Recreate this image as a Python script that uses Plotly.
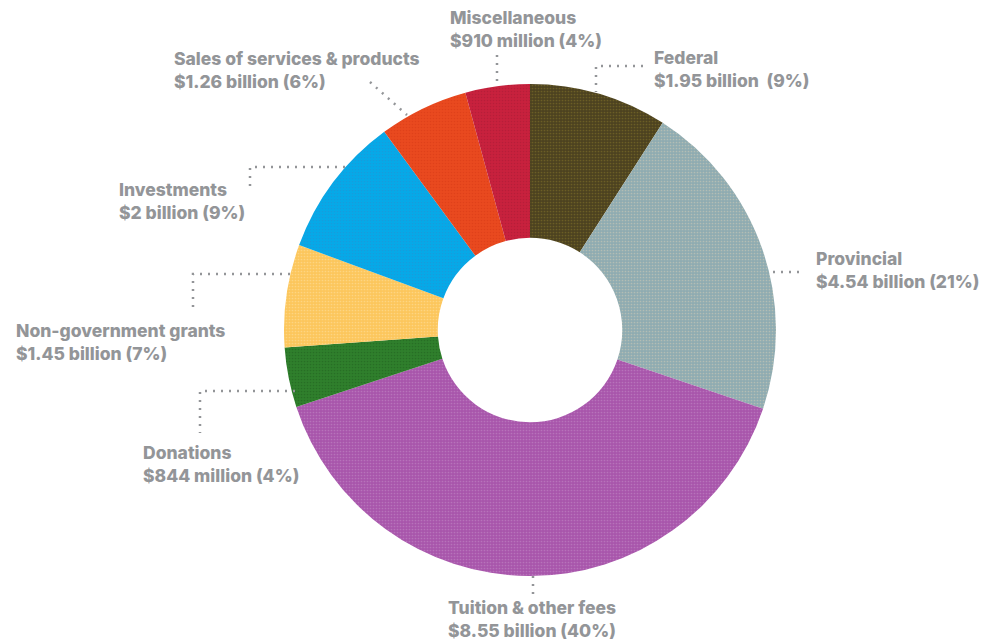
import plotly.graph_objects as go

# ---- data ----
categories = ["Federal", "Provincial", "Tuition & other fees", "Donations",
              "Non-government grants", "Investments",
              "Sales of services & products", "Miscellaneous"]
values_billion = [1.95, 4.54, 8.55, 0.844, 1.45, 2.0, 1.26, 0.91]
amount_labels = ["$1.95 billion ", "$4.54 billion", "$8.55 billion", "$844 million",
                 "$1.45 billion", "$2 billion", "$1.26 billion", "$910 million"]

colors = ["#4d4220", "#8fabb1", "#a856ab", "#2f7f2c",
          "#fcc65c", "#05a9e8", "#e9491f", "#c8213d"]
speckle = ["#8a7a2a", "#d8cfb8", "#c58fca", "#1f5e1d",
           "#fde2a8", "#2a8fd0", "#d53a16", "#a51a35"]

W, H = 984, 641
cx, cy, R = 530, 330, 246

def px(x):
    return x / W

def py(y):
    return 1 - y / H

fig = go.Figure(go.Pie(
    labels=categories,
    values=values_billion,
    sort=False,
    direction="clockwise",
    rotation=0,
    hole=0.375,
    textinfo="none",
    hoverinfo="label+value",
    marker=dict(colors=colors, line=dict(width=0),
                pattern=dict(shape=".", fgcolor=speckle, size=3, solidity=0.25,
                             fillmode="overlay")),
    domain=dict(x=[px(cx - R), px(cx + R)], y=[py(cy + R), py(cy - R)]),
    showlegend=False,
))

total = sum(values_billion)
pcts = [round(v / total * 100) for v in values_billion]

# label anchor (left x, vertical centre y) in pixels
label_pos = [(652, 69), (814, 270), (446, 619), (141, 464),
             (14, 342), (117, 201), (172, 70), (448, 29)]

for name, amt, p, (lx, ly) in zip(categories, amount_labels, pcts, label_pos):
    fig.add_annotation(
        x=px(lx), y=py(ly), xref="paper", yref="paper",
        xanchor="left", yanchor="middle", align="left", showarrow=False,
        text=f"{name}<br>{amt} ({p}%)",
        font=dict(family="Inter", size=17.5, color="#939598", weight=800),
    )

# dotted leader lines (pixel coords)
leaders = [
    [(497, 55), (497, 86)],
    [(643, 66), (596, 66), (596, 92)],
    [(370, 82), (407, 115)],
    [(345, 167), (250, 167), (250, 190)],
    [(290, 274), (193, 274), (193, 313)],
    [(295, 391), (200, 391), (200, 433)],
    [(773, 272), (804, 272)],
    [(533, 576), (533, 596)],
]
for pts in leaders:
    path = "M " + " L ".join(f"{px(x):.5f},{py(y):.5f}" for x, y in pts)
    fig.add_shape(type="path", path=path, xref="paper", yref="paper",
                  line=dict(color="#939598", width=2.5, dash="2px,6px"))

fig.update_layout(
    width=W, height=H,
    margin=dict(l=0, r=0, t=0, b=0),
    paper_bgcolor="white", plot_bgcolor="white",
)

fig.write_html("out.html")
